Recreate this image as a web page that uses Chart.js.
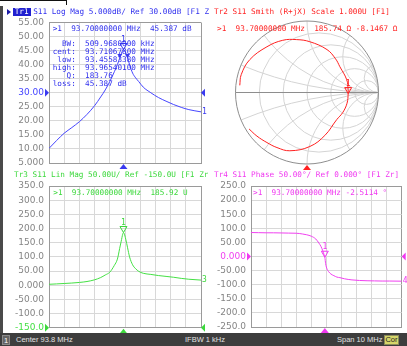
<!DOCTYPE html>
<html>
<head>
<meta charset="utf-8">
<script src="https://cdn.jsdelivr.net/npm/chart.js@4.4.1/dist/chart.umd.min.js"></script>
<style>
html, body { margin: 0; padding: 0; background: #fff; }
#page { position: relative; width: 407px; height: 346px; overflow: hidden; background: #fff; }
canvas { position: absolute; left: 0; top: 0; }
.t { position: absolute; font: 7.7px 'DejaVu Sans Mono', monospace; line-height: 8px; white-space: pre; }
.clip { overflow: hidden; }
.sb { position: absolute; font: 7.5px 'Liberation Sans', sans-serif; line-height: 10px; color: #e2e2e2; white-space: pre; }
</style>
</head>
<body>
<div id="page">
  <canvas id="c1" width="407" height="346"></canvas>
  <canvas id="c2" width="407" height="346"></canvas>
  <canvas id="c3" width="407" height="346"></canvas>
  <canvas id="c4" width="407" height="346"></canvas>

  <!-- window frame bits -->
  <div style="position:absolute;left:0;top:0;width:67px;height:1px;background:#111"></div>
  <div style="position:absolute;left:66px;top:0;width:1px;height:5px;background:#111"></div>
  <div style="position:absolute;left:0;top:6px;width:3px;height:327px;background:#4a4a4a"></div>
  <div style="position:absolute;left:7px;top:9px;width:0;height:0;border-left:4px solid #1a1aa8;border-top:3.5px solid transparent;border-bottom:3.5px solid transparent"></div>

  <!-- trace titles -->
  <div style="position:absolute;left:12.7px;top:8.2px;width:18px;height:7.6px;background:#2020d0"></div>
  <div class="t clip" style="left:14.7px;top:7.7px;width:194px;color:#3030ee"><span style="color:#fff">Tr1</span> S11 Log Mag 5.000dB/ Ref 30.00dB [F1 Zr]</div>
  <div class="t" style="left:214px;top:7.7px;color:#ff2424">Tr2 S11 Smith (R+jX) Scale 1.000U [F1]</div>
  <div class="t clip" style="left:14px;top:171px;width:194px;color:#3cd83c">Tr3 S11 Lin Mag 50.00U/ Ref -150.0U [F1 Zr]</div>
  <div class="t" style="left:214px;top:170.5px;color:#f038f0">Tr4 S11 Phase 50.00°/ Ref 0.000° [F1 Zr]</div>

  <!-- marker readouts -->
  <div class="t" style="left:52.7px;top:25.3px;color:#3030ee">&gt;1  93.70000000 MHz  45.387 dB</div>
  <div class="t" style="left:52.7px;top:40.3px;color:#3030ee">  BW:  509.9680000 kHz
cent:  93.71067800 MHz
 low:  93.45583380 MHz
high:  93.96540100 MHz
   Q:  183.76
loss:  45.387 dB</div>
  <div class="t" style="left:217px;top:25.3px;color:#ff2424">&gt;1  93.70000000 MHz  185.74 Ω -8.1467 Ω</div>
  <div class="t" style="left:53.3px;top:189.3px;color:#3cd83c">&gt;1  93.70000000 MHz  185.92 U</div>
  <div class="t" style="left:253px;top:189.3px;color:#f038f0">&gt;1  93.70000000 MHz -2.5114 °</div>

  <!-- status bar -->
  <div style="position:absolute;left:0;top:333px;width:407px;height:13px;background:#3d3d3d"></div>
  <div class="sb" style="left:2px;top:334.5px;width:8px;height:10px;background:#646464;border:1px solid #8a8a8a;box-sizing:border-box;text-align:center;line-height:9px;color:#fff">1</div>
  <div class="sb" style="left:16px;top:334.5px">Center 93.8 MHz</div>
  <div class="sb" style="left:185px;top:334.5px">IFBW 1 kHz</div>
  <div class="sb" style="left:337px;top:334.5px">Span 10 MHz</div>
  <div class="sb" style="left:384px;top:335px;width:15px;height:10px;background:#d6d66a;border:1px solid #8a8a5a;box-sizing:border-box;color:#222;line-height:8px;text-align:center">Cor</div>
</div>

<script>
// sweep: center 93.8 MHz, span 10 MHz
var freqStart = 88.8;
var freqStop = 98.8;
var freqMHz = [88.8, 89.3, 89.8, 90.3, 90.8, 91.3, 91.8, 92.2, 92.5, 92.8, 93.1, 93.3, 93.45, 93.55, 93.65, 93.7,
  93.75, 93.85, 93.97, 94.1, 94.3, 94.5, 94.7, 95.0, 95.5, 96.0, 96.5, 97.0, 97.5, 98.0, 98.8];

// Tr1 log mag (dB)
var logMagDb = [10.2, 13.0, 15.6, 17.6, 19.7, 22.3, 25.4, 28.5, 31.0, 34.0, 37.5, 40.0, 42.3, 43.8, 45.1, 45.39,
  45.2, 44.2, 42.4, 40.0, 37.0, 35.3, 34.0, 32.0, 30.0, 28.3, 27.0, 25.8, 24.8, 24.0, 23.2];
// Tr3 lin mag (U)
var linMag = [3.2, 4.5, 6.0, 7.6, 9.7, 13.0, 19.0, 27, 36, 46, 70, 92, 130, 155, 180, 185.9,
  182, 162, 132, 100, 72, 58, 49, 42, 38, 34, 31, 28, 24, 21, 18];
// Tr4 phase (deg)
var phaseDeg = [85, 84.5, 84, 84, 83.5, 83, 82.5, 80, 77, 72, 62, 48, 35, 22, 7, -2.5,
  -25, -45, -55, -62, -68, -73, -75, -79, -83, -85, -86, -86.5, -87, -87, -87.5];
var markerIdx = 15;

// bandwidth search points on Tr1
var bwFreq = [93.4558, 93.9654];
var bwDb = [42.38, 42.38];

// Tr2 smith trace (reflection coefficient)
var smithRe = [-0.94, -0.92, -0.80, -0.56, -0.34, -0.15, 0.04, 0.28, 0.40, 0.46, 0.555, 0.575, 0.576,
  0.56, 0.50, 0.415, 0.25, 0.04, -0.24, -0.42, -0.56, -0.70, -0.81];
var smithIm = [0.10, 0.25, 0.46, 0.64, 0.73, 0.74, 0.71, 0.60, 0.47, 0.36, 0.18, 0.04, -0.015,
  -0.15, -0.28, -0.38, -0.60, -0.755, -0.815, -0.77, -0.70, -0.61, -0.51];
var smithMarkerIdx = 12;

// smith grid circles
var smithR = [0.2, 0.5, 1, 2, 5];
var smithX = [0.2, 0.5, 1, 2, 5];

var freqGrid = [];
for (var i = 0; i <= 10; i++) {
  freqGrid.push(freqStart + i * (freqStop - freqStart) / 10);
}

var frameColor = '#9a9a9a';
function gridColor(c) {
  return (c.index === 0 || c.index === 10) ? frameColor : '#d8d8d8';
}

function fillTri(ctx, x1, y1, x2, y2, x3, y3) {
  ctx.beginPath();
  ctx.moveTo(x1, y1);
  ctx.lineTo(x2, y2);
  ctx.lineTo(x3, y3);
  ctx.closePath();
  ctx.fill();
}

var vnaMarks = {
  id: 'vnaMarks',
  afterDatasetsDraw: function (chart, args, o) {
    var ctx = chart.ctx, a = chart.chartArea;
    var pts = chart.getDatasetMeta(0).data;
    ctx.save();
    ctx.fillStyle = o.color;
    ctx.strokeStyle = o.color;
    ctx.lineWidth = 1;
    // reference level arrows
    if (o.ref !== undefined) {
      var yr = chart.scales.y.getPixelForValue(o.ref);
      fillTri(ctx, a.left, yr, a.left - 4, yr - 4, a.left - 4, yr + 4);
      fillTri(ctx, a.right, yr, a.right + 4, yr - 4, a.right + 4, yr + 4);
    }
    // stimulus arrow under the grid
    var sx = chart.scales.x.getPixelForValue(o.stimVal);
    fillTri(ctx, sx, a.bottom + 1, sx - 4, a.bottom + 6, sx + 4, a.bottom + 6);
    // bandwidth points
    if (o.bw) {
      for (var k = 0; k < bwFreq.length; k++) {
        var bx = chart.scales.x.getPixelForValue(bwFreq[k]);
        var by = chart.scales.y.getPixelForValue(bwDb[k]);
        fillTri(ctx, bx, by, bx - 2.5, by - 4, bx + 2.5, by - 4);
      }
    }
    // marker 1
    var m = pts[o.markIdx];
    ctx.beginPath();
    ctx.moveTo(m.x, m.y);
    ctx.lineTo(m.x - 3.5, m.y - 6);
    ctx.lineTo(m.x + 3.5, m.y - 6);
    ctx.closePath();
    ctx.stroke();
    ctx.font = "8px 'DejaVu Sans Mono'";
    ctx.textAlign = 'center';
    ctx.textBaseline = 'bottom';
    ctx.fillText('1', m.x, m.y - 6);
    if (o.endLabel) {
      var e = pts[pts.length - 1];
      ctx.textAlign = 'left';
      ctx.textBaseline = 'middle';
      ctx.fillText(o.endLabel, a.right + 1, e.y);
    }
    ctx.restore();
  }
};

var smithGrid = {
  id: 'smithGrid',
  beforeDatasetsDraw: function (chart) {
    var ctx = chart.ctx, xs = chart.scales.x, ys = chart.scales.y;
    var cx = xs.getPixelForValue(0), cy = ys.getPixelForValue(0);
    var R = xs.getPixelForValue(1) - cx;
    ctx.save();
    ctx.beginPath();
    ctx.arc(cx, cy, R, 0, Math.PI * 2);
    ctx.clip();
    ctx.strokeStyle = '#d4d4d4';
    ctx.lineWidth = 1;
    smithR.forEach(function (r) {
      ctx.beginPath();
      ctx.arc(cx + R * r / (1 + r), cy, R / (1 + r), 0, Math.PI * 2);
      ctx.stroke();
    });
    smithX.forEach(function (x) {
      [1, -1].forEach(function (s) {
        ctx.beginPath();
        ctx.arc(cx + R, cy - s * R / x, R / x, 0, Math.PI * 2);
        ctx.stroke();
      });
    });
    ctx.restore();
    ctx.save();
    ctx.strokeStyle = '#8e8e8e';
    ctx.lineWidth = 1;
    ctx.beginPath();
    ctx.arc(cx, cy, R, 0, Math.PI * 2);
    ctx.stroke();
    ctx.beginPath();
    ctx.moveTo(cx - R, cy);
    ctx.lineTo(cx + R, cy);
    ctx.stroke();
    ctx.restore();
  }
};

function makeTrace(id, area, yMin, yMax, yStep, refVal, color, values, marks) {
  var ctx = document.getElementById(id).getContext('2d');
  return new Chart(ctx, {
    type: 'line',
    data: {
      datasets: [{
        data: freqMHz.map(function (f, i) { return { x: f, y: values[i] }; }),
        borderColor: color,
        borderWidth: 1,
        pointRadius: 0,
        cubicInterpolationMode: 'monotone'
      }]
    },
    options: {
      responsive: false,
      animation: false,
      events: [],
      layout: { padding: { left: area.left - 40, right: 407 - area.right, top: area.top, bottom: 346 - area.bottom } },
      plugins: { legend: { display: false }, tooltip: { enabled: false }, vnaMarks: marks },
      scales: {
        x: {
          type: 'linear', min: freqStart, max: freqStop,
          afterBuildTicks: function (s) { s.ticks = freqGrid.map(function (v) { return { value: v }; }); },
          afterFit: function (s) { s.height = 0; },
          ticks: { display: false },
          grid: { color: gridColor, drawTicks: false },
          border: { color: frameColor }
        },
        y: {
          min: yMin, max: yMax,
          afterFit: function (s) { s.width = 40; },
          ticks: {
            stepSize: yStep,
            padding: 5,
            font: { family: 'DejaVu Sans', size: 9 },
            color: function (c) { return c.tick && c.tick.value === refVal ? color : '#858585'; },
            callback: function (v) { return v === 0 ? '0.000' : v.toPrecision(4); }
          },
          grid: { color: gridColor, drawTicks: false },
          border: { color: frameColor }
        }
      }
    },
    plugins: [vnaMarks]
  });
}

makeTrace('c1', { left: 49, right: 201, top: 22.5, bottom: 163 }, 5, 55, 5, 30, '#4646ff', logMagDb,
  { color: '#3a3af0', ref: 30, stimVal: 93.7, markIdx: markerIdx, endLabel: '1', bw: true });
makeTrace('c3', { left: 49, right: 201, top: 186, bottom: 327.7 }, -150, 350, 50, -150, '#44e044', linMag,
  { color: '#3cd83c', ref: -150, stimVal: 93.7, markIdx: markerIdx, endLabel: '3' });
makeTrace('c4', { left: 251, right: 401.7, top: 186, bottom: 327 }, -250, 250, 50, 0, '#f040f0', phaseDeg,
  { color: '#f038f0', ref: 0, stimVal: 93.7, markIdx: markerIdx, endLabel: '4' });

new Chart(document.getElementById('c2').getContext('2d'), {
  type: 'scatter',
  data: {
    datasets: [{
      data: smithRe.map(function (r, i) { return { x: r, y: smithIm[i] }; }),
      showLine: true,
      borderColor: '#ff2020',
      borderWidth: 1,
      pointRadius: 0,
      tension: 0.4
    }]
  },
  options: {
    responsive: false,
    animation: false,
    events: [],
    layout: { padding: { left: 235.5, right: 28.5, top: 21, bottom: 182 } },
    plugins: { legend: { display: false }, tooltip: { enabled: false },
      vnaMarks: { color: '#ff2020', stimVal: 0, markIdx: smithMarkerIdx } },
    scales: {
      x: { min: -1, max: 1, display: false },
      y: { min: -1, max: 1, display: false }
    }
  },
  plugins: [smithGrid, vnaMarks]
});
</script>
</body>
</html>
